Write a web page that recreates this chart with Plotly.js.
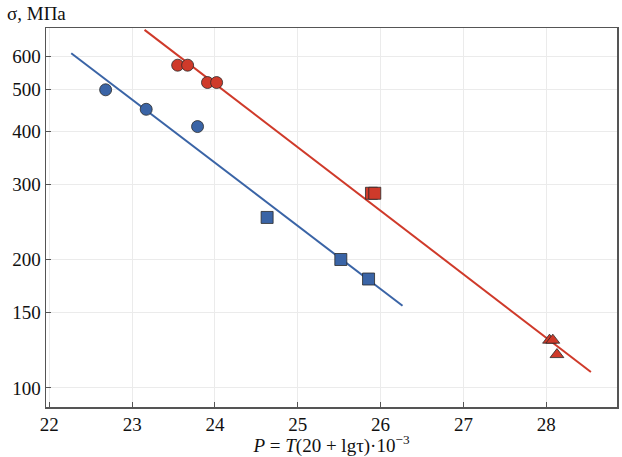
<!DOCTYPE html>
<html><head><meta charset="utf-8">
<script src="https://cdn.plot.ly/plotly-3.0.1.min.js"></script>
<style>html,body{margin:0;padding:0;background:#fff}#c{width:622px;height:457px}</style>
</head><body><div id="c"></div>
<script>
const blueCircleX = [22.68, 23.17, 23.79];
const blueCircleY = [500, 450, 410];
const blueSquareX = [24.63, 25.52, 25.855];
const blueSquareY = [251, 200, 180];
const redCircleX = [23.55, 23.67, 23.91, 24.02];
const redCircleY = [571, 571, 520, 520];
const redSquareX = [25.89, 25.93];
const redSquareY = [286, 286];
const redTriX = [28.04, 28.08, 28.13];
const redTriY = [129.4, 129.4, 119.7];
const blueLineX = [22.265, 26.265];
const blueLineY = [609, 155.8];
const redLineX = [23.15, 28.54];
const redLineY = [691, 109];
const xTicks = [22, 23, 24, 25, 26, 27, 28];
const yTicks = [100, 150, 200, 300, 400, 500, 600];

const BLUE = '#3a64a6', RED = '#cf3a2a';
const mk = (sym, col) => ({symbol: sym, size: 12, color: col, line: {color: '#2a2a2a', width: 0.8}});
const traces = [
  {x: blueLineX, y: blueLineY, mode: 'lines', line: {color: BLUE, width: 2}},
  {x: redLineX, y: redLineY, mode: 'lines', line: {color: RED, width: 2}},
  {x: blueCircleX, y: blueCircleY, mode: 'markers', marker: mk('circle', BLUE)},
  {x: blueSquareX, y: blueSquareY, mode: 'markers', marker: mk('square', BLUE)},
  {x: redCircleX, y: redCircleY, mode: 'markers', marker: mk('circle', RED)},
  {x: redSquareX, y: redSquareY, mode: 'markers', marker: mk('square', RED)},
  {x: redTriX, y: redTriY, mode: 'markers', marker: mk('triangle-up', RED)}
];
const font = {family: '"Liberation Serif"', size: 19, color: '#111'};
const layout = {
  width: 622, height: 457,
  margin: {l: 46, r: 5, t: 28, b: 50},
  showlegend: false,
  paper_bgcolor: '#fff', plot_bgcolor: '#fff',
  font: font,
  xaxis: {
    range: [21.96, 28.855], tickvals: xTicks, ticktext: xTicks.map(String),
    showgrid: true, gridcolor: '#ebebeb', gridwidth: 1,
    zeroline: false, showline: true, linecolor: '#555', linewidth: 1.5, mirror: true,
    ticks: 'inside', ticklen: 5, tickcolor: '#555',
    title: {text: '<i>P</i> = <i>T</i>(20 + lgτ)·10<sup>−3</sup>', font: font, standoff: 2}
  },
  yaxis: {
    type: 'log', range: [Math.log10(90.2), Math.log10(698)],
    tickvals: yTicks, ticktext: yTicks.map(String),
    showgrid: true, gridcolor: '#ebebeb', gridwidth: 1,
    zeroline: false, showline: true, linecolor: '#555', linewidth: 1.5, mirror: true,
    ticks: 'inside', ticklen: 5, tickcolor: '#555'
  },
  annotations: [{
    text: 'σ, МПа', xref: 'paper', yref: 'paper', x: -0.072, y: 1.037,
    xanchor: 'left', yanchor: 'middle', showarrow: false, font: font
  }]
};
Plotly.newPlot('c', traces, layout, {displayModeBar: false, staticPlot: true});
</script></body></html>
